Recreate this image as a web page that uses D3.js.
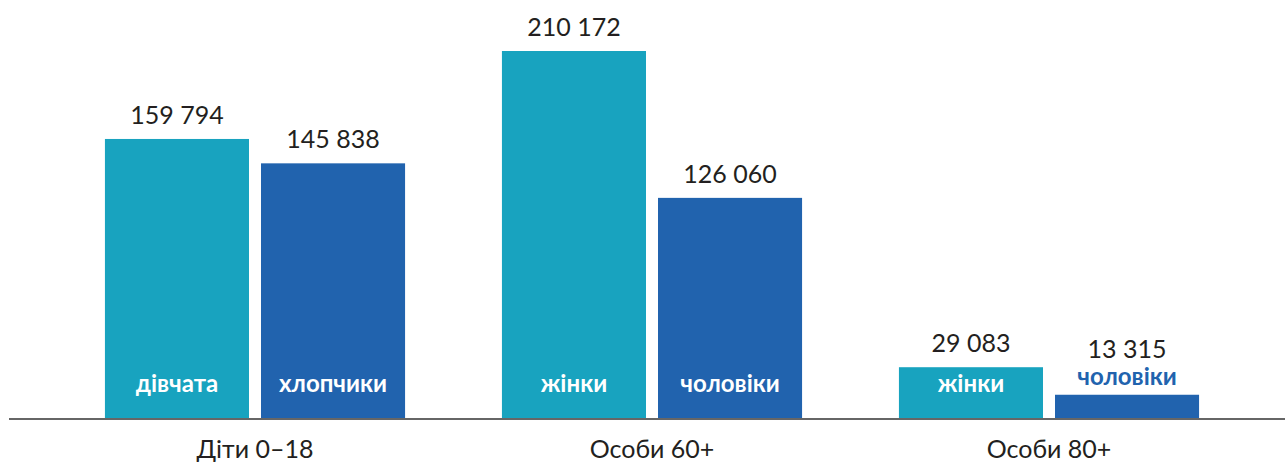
<!DOCTYPE html>
<html>
<head>
<meta charset="utf-8">
<script src="https://cdn.jsdelivr.net/npm/d3@7"></script>
<style>
  body { margin: 0; background: #fff; }
  text { font-family: Lato, "Open Sans", sans-serif; }
</style>
</head>
<body>
<div id="chart"></div>
<script>
// дані
var groups = ["Діти 0–18", "Особи 60+", "Особи 80+"];
var sexes = ["f", "m"];
var barLabels = [["дівчата", "хлопчики"], ["жінки", "чоловіки"], ["жінки", "чоловіки"]];
var femaleValues = [159794, 210172, 29083];
var maleValues = [145838, 126060, 13315];

var colors = { f: "#18a3bf", m: "#2163ae" };

var width = 1285;
var height = 466;
var base = 418; // нижня лінія

var locale = d3.formatLocale({ decimal: ",", thousands: " ", grouping: [3], currency: ["", ""] });
var fmt = locale.format(",d");

var data = [];
groups.forEach(function(g, i) {
  data.push({ group: g, sex: "f", value: femaleValues[i], label: barLabels[i][0] });
  data.push({ group: g, sex: "m", value: maleValues[i], label: barLabels[i][1] });
});

var svg = d3.select("#chart").append("svg").attr("width", width).attr("height", height);

var x0 = d3.scaleBand()
  .domain(groups)
  .range([56.5, 1247.5])
  .paddingInner(0.244)
  .paddingOuter(0.122);

var x1 = d3.scaleBand()
  .domain(sexes)
  .range([0, x0.bandwidth()])
  .paddingInner(12 / 156);

var y = d3.scaleLinear()
  .domain([0, d3.max(femaleValues.concat(maleValues))])
  .range([base, 51]);

// стовпчики
var bar = svg.append("g")
  .selectAll("g")
  .data(data)
  .enter()
  .append("g")
  .attr("transform", function(d) { return "translate(" + (x0(d.group) + x1(d.sex)) + ",0)"; });

bar.append("rect")
  .attr("x", 0)
  .attr("y", function(d) { return y(d.value); })
  .attr("width", x1.bandwidth())
  .attr("height", function(d) { return base - y(d.value); })
  .attr("fill", function(d) { return colors[d.sex]; });

function short(d) { return base - y(d.value) < 40; }

// підписи всередині
bar.append("text")
  .attr("x", x1.bandwidth() / 2)
  .attr("y", function(d) { return short(d) ? y(d.value) - 10 : 392; })
  .attr("text-anchor", "middle")
  .attr("font-size", 24)
  .attr("font-weight", "bold")
  .attr("fill", function(d) { return short(d) ? colors[d.sex] : "#fff"; })
  .text(function(d) { return d.label; });

// значення
bar.append("text")
  .attr("x", x1.bandwidth() / 2)
  .attr("y", function(d) { return y(d.value) - (short(d) ? 37 : 15); })
  .attr("text-anchor", "middle")
  .attr("font-size", 25)
  .attr("fill", "#231f20")
  .text(function(d) { return fmt(d.value); });

// вісь
var axis = svg.append("g")
  .attr("transform", "translate(0," + base + ")")
  .call(d3.axisBottom(x0).tickSize(0).tickPadding(22));

axis.select(".domain").remove();
axis.selectAll("text")
  .attr("font-size", 25)
  .attr("font-family", "Lato, 'Open Sans', sans-serif")
  .attr("fill", "#231f20");

svg.append("line")
  .attr("x1", 9)
  .attr("x2", width)
  .attr("y1", base + 1)
  .attr("y2", base + 1)
  .attr("stroke", "#666")
  .attr("stroke-width", 2);
</script>
</body>
</html>
